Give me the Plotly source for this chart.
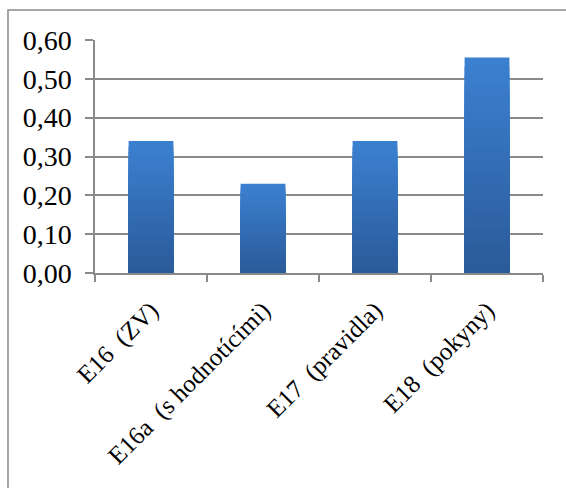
import plotly.graph_objects as go

categories = ["E16\u00a0\u00a0(ZV)", "E16a\u00a0\u00a0(s hodnotícími)", "E17\u00a0\u00a0(pravidla)", "E18\u00a0\u00a0(pokyny)"]
values = [0.34, 0.23, 0.34, 0.555]
y_ticks = [0.0, 0.1, 0.2, 0.3, 0.4, 0.5, 0.6]

top_rgb = (59, 128, 208)
bottom_rgb = (43, 91, 154)
steps = 24

fig = go.Figure()
# main bar (real data), light top colour
fig.add_trace(go.Bar(x=categories, y=values, marker=dict(color="rgb(%d,%d,%d)" % top_rgb, line=dict(width=0)),
                     showlegend=False, hoverinfo="x+y"))
# gradient overlay: progressively shorter, darker bars scaled from the data
for k in range(1, steps):
    f = 1 - k / steps
    t = k / (steps - 1)
    c = tuple(round(top_rgb[i] + (bottom_rgb[i] - top_rgb[i]) * t) for i in range(3))
    fig.add_trace(go.Bar(x=categories, y=[v * f for v in values],
                         marker=dict(color="rgb(%d,%d,%d)" % c, line=dict(width=0)),
                         showlegend=False, hoverinfo="skip"))

grey = "#8a8a8a"
font = "Liberation Serif"
fig.update_layout(
    width=566, height=488,
    margin=dict(l=95, r=23, t=40, b=215),
    paper_bgcolor="white", plot_bgcolor="white",
    barmode="overlay", bargap=0.6,
    separators=", ",
    font=dict(family=font, color="black"),
    xaxis=dict(showline=True, linecolor=grey, linewidth=1.5, ticks="outside", tickson="boundaries",
               ticklen=7, tickcolor=grey, tickwidth=1.5, tickangle=-45, ticklabelstandoff=11,
               tickfont=dict(size=25, family=font), showgrid=False),
    yaxis=dict(range=[0, 0.6], tickvals=y_ticks, tickformat=".2f", showline=True, linecolor=grey,
               linewidth=1.5, ticks="outside", ticklen=8, tickcolor=grey, tickwidth=1.5,
               showgrid=True, gridcolor=grey, gridwidth=1.5, zeroline=False,
               tickfont=dict(size=28, family=font), ticklabelstandoff=8),
    shapes=[dict(type="rect", xref="paper", yref="paper", x0=-0.1942, x1=1.08, y0=-1.0, y1=1.1288,
                 line=dict(color=grey, width=1.5), layer="below")],
)
fig.write_html("out.html")
